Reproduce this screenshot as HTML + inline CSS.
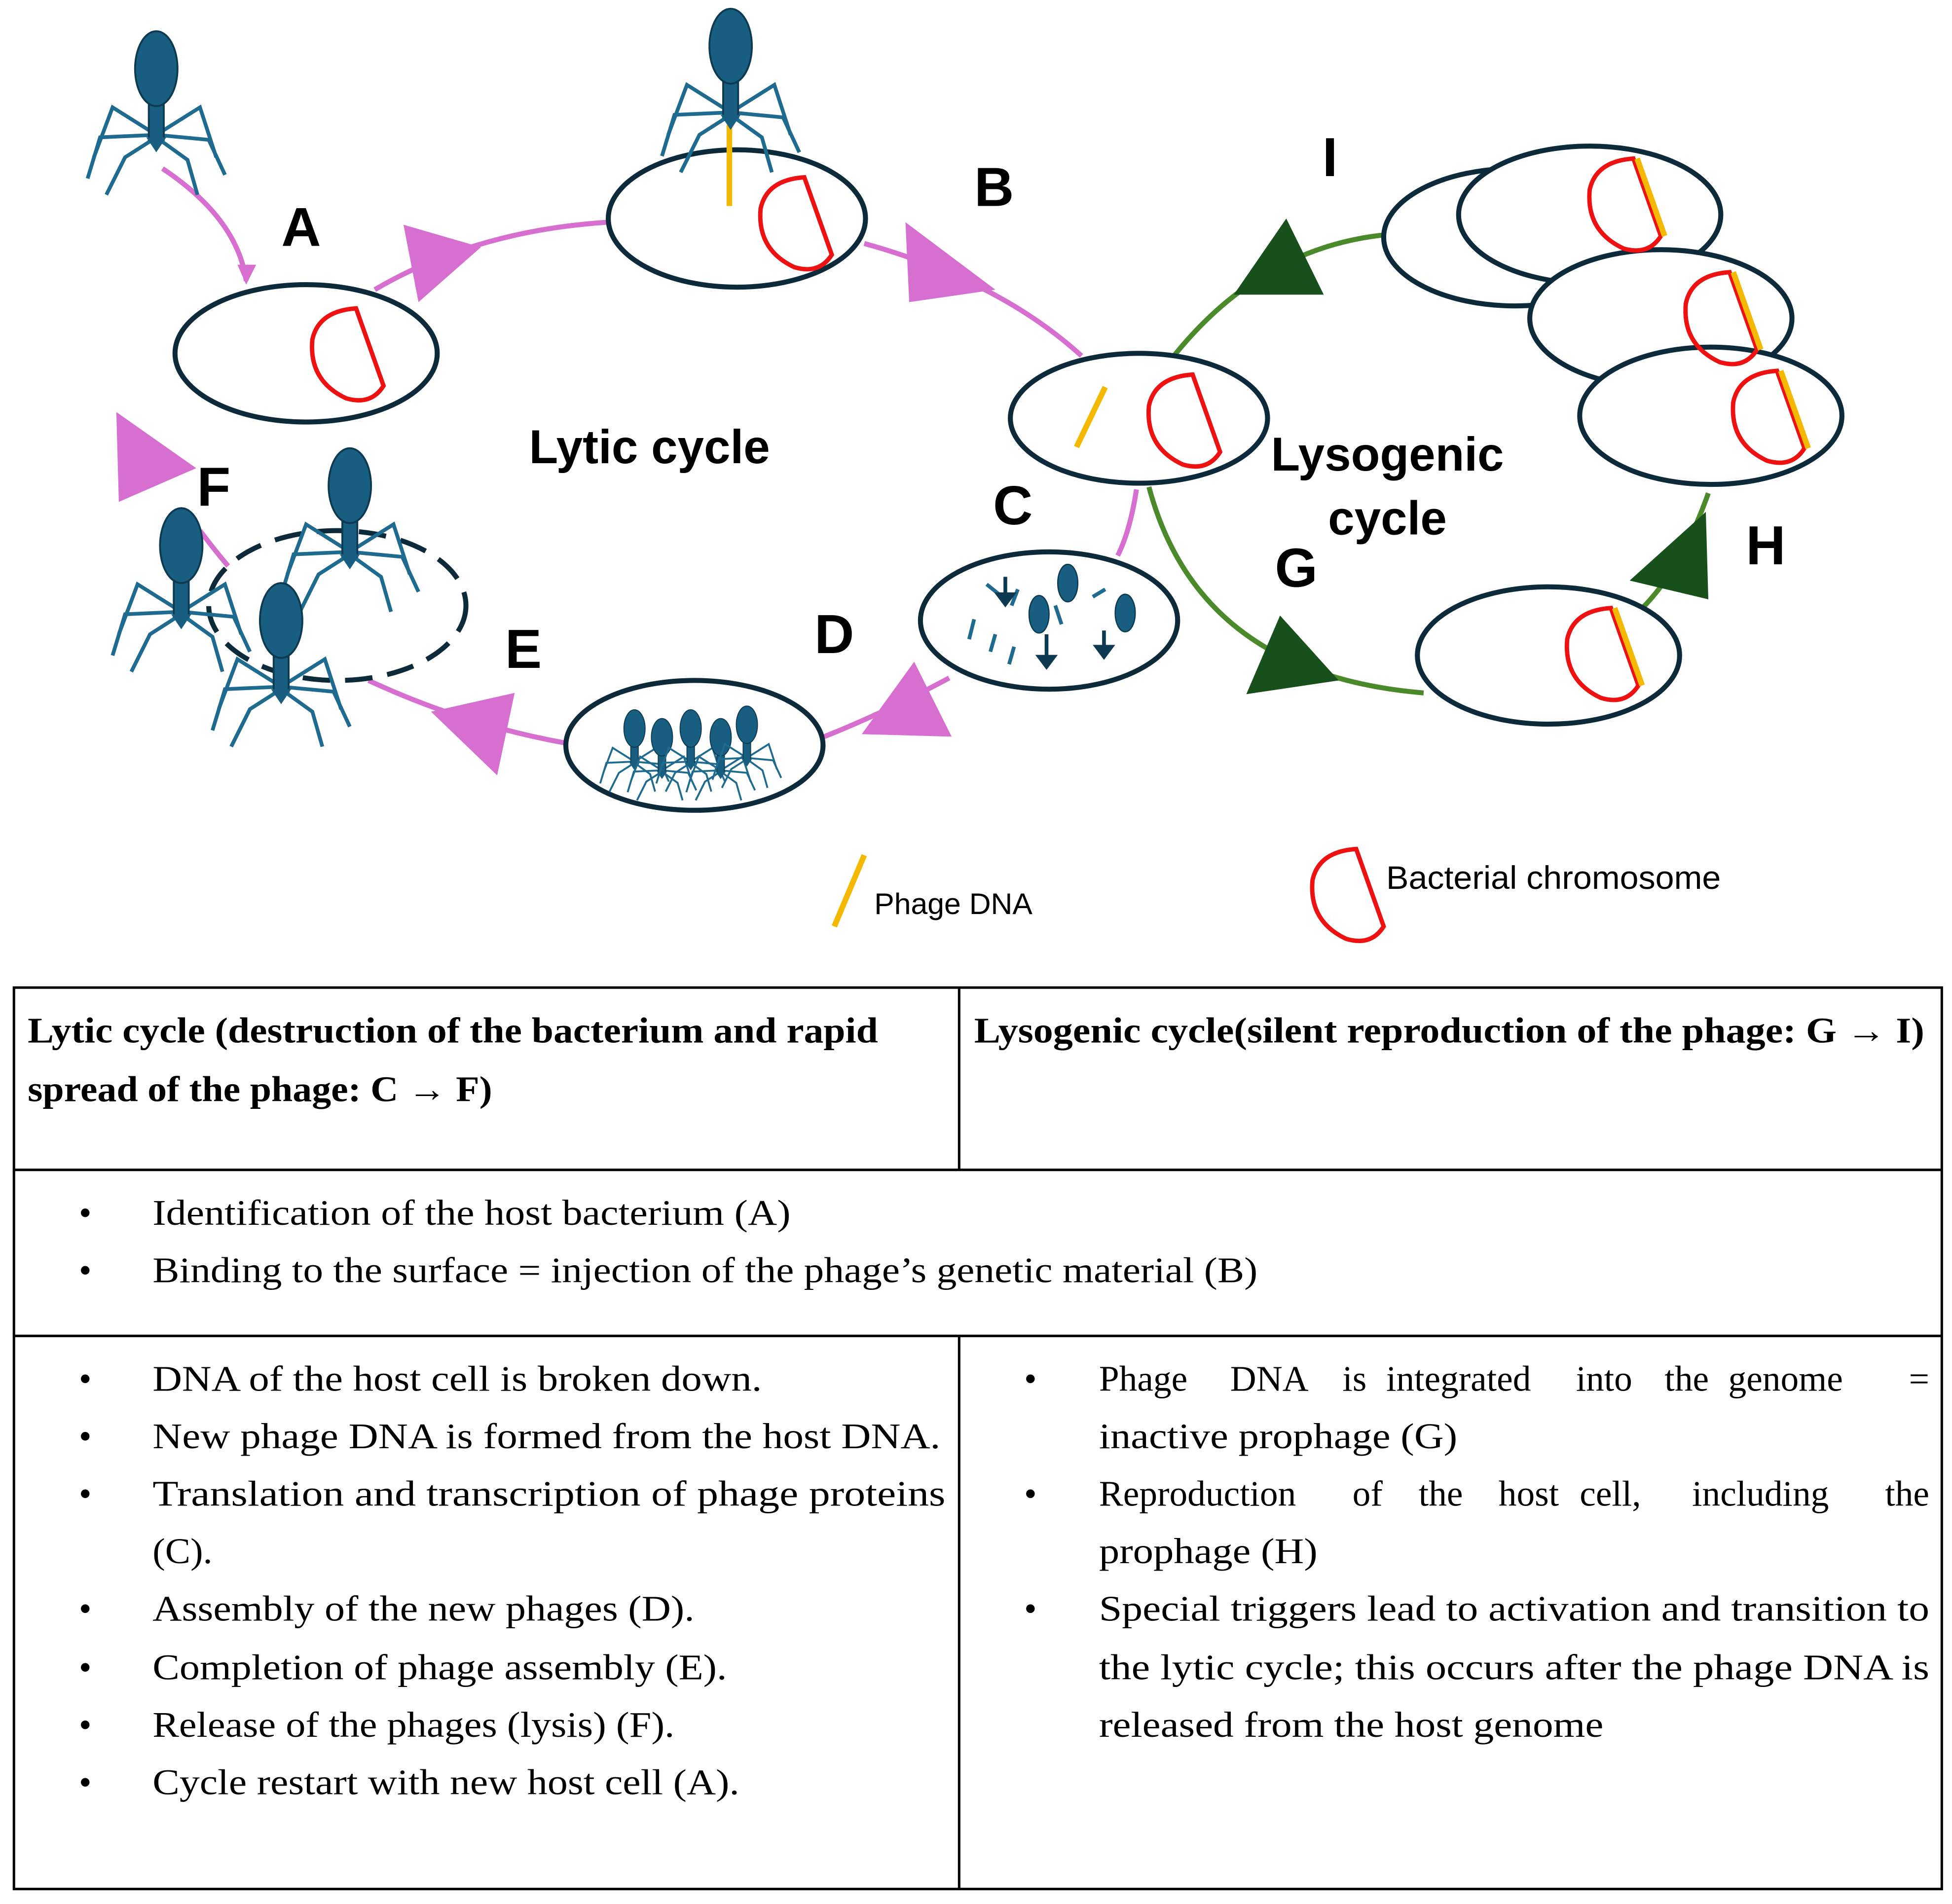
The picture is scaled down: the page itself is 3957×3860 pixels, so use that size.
<!DOCTYPE html>
<html><head><meta charset="utf-8"><style>
html,body{margin:0;padding:0;background:#fff}
svg{display:block}
.lab{font-family:"Liberation Sans",sans-serif;font-weight:bold;fill:#000}
.tb{font-family:"Liberation Serif",serif;font-size:29px;fill:#000}
</style></head><body>
<svg width="3957" height="3860" viewBox="0 0 1563 1525" xmlns="http://www.w3.org/2000/svg">
<defs>
<g id="phage">
  <g stroke="#1f6a8f" stroke-width="3" fill="none">
    <polyline points="0,-10 -35,-32 -50,8"/>
    <polyline points="0,-10 -45,-8 -55,25"/>
    <polyline points="0,-8 -25,8 -40,38"/>
    <polyline points="0,-10 35,-32 48,8"/>
    <polyline points="0,-10 42,-6 55,22"/>
    <polyline points="0,-8 25,10 33,38"/>
  </g>
  <rect x="-6" y="-34" width="12" height="28" fill="#175e80" stroke="#0d3a50" stroke-width="1.5"/>
  <polygon points="-8,-8 8,-8 0,4" fill="#175e80"/>
  <ellipse cx="0" cy="-63" rx="17" ry="30" fill="#175e80" stroke="#0d3a50" stroke-width="1.5"/>
</g>
<path id="chr" d="M0,0 L22,62 Q12,78 -8,72 Q-38,58 -35,25 Q-30,2 0,0 Z" fill="none" stroke="#ee1111" stroke-width="3.5"/>
</defs>

<g stroke="#d66fcf" stroke-width="4" fill="none">
  <path d="M130,135 Q190,175 197,225"/>
  <path d="M300,232 Q380,185 486,178"/>
  <path d="M692,195 Q800,225 866,285"/>
  <path d="M910,392 Q905,425 895,445"/>
  <path d="M760,543 Q710,570 660,590"/>
  <path d="M452,595 Q370,580 295,545"/>
  <path d="M190,462 Q175,445 160,425"/>
</g>
<g fill="#d66fcf">
  <polygon points="190,212 205,212 197,228"/>
  <polygon points="323,180 335,242 385,198"/>
  <polygon points="725,178 728,242 797,232"/>
  <polygon points="690,588 762,590 732,530"/>
  <polygon points="345,570 398,621 412,555"/>
  <polygon points="93,330 95,402 157,375"/>
</g>
<g stroke="#4a8a2a" stroke-width="4" fill="none">
  <path d="M940,285 Q1010,198 1110,188"/>
  <path d="M920,390 Q960,540 1140,555"/>
  <path d="M1310,492 Q1345,460 1368,395"/>
</g>
<g fill="#17501a">
  <polygon points="988,236 1060,236 1030,175"/>
  <polygon points="998,556 1072,545 1025,493"/>
  <polygon points="1305,465 1368,480 1366,410"/>
</g>

<g fill="#fff" stroke="#0d2a3a" stroke-width="4">
  <ellipse cx="245" cy="283" rx="105" ry="55"/>
  <ellipse cx="590" cy="175" rx="103" ry="55"/>
  <ellipse cx="912" cy="335" rx="103" ry="52"/>
  <ellipse cx="840" cy="497" rx="103" ry="55"/>
  <ellipse cx="556" cy="597" rx="103" ry="52"/>
  <ellipse cx="1240" cy="525" rx="105" ry="55"/>
  <ellipse cx="1213" cy="190" rx="105" ry="55"/>
  <ellipse cx="1273" cy="172" rx="105" ry="55"/>
  <ellipse cx="1330" cy="255" rx="105" ry="55"/>
  <ellipse cx="1370" cy="333" rx="105" ry="55"/>
  <ellipse cx="270" cy="485" rx="103" ry="60" stroke-dasharray="22,12"/>
</g>

<use href="#chr" x="285" y="247"/>
<use href="#chr" x="644" y="142"/>
<use href="#chr" x="955" y="300"/>
<use href="#chr" x="1290" y="487"/>
<use href="#chr" x="1308" y="127"/>
<use href="#chr" x="1385" y="218"/>
<use href="#chr" x="1423" y="297"/>
<use href="#chr" x="1086" y="680"/>
<g stroke="#f5b800" stroke-width="4.5">
  <line x1="584" y1="100" x2="584" y2="165"/>
  <line x1="862" y1="358" x2="885" y2="310"/>
  <line x1="1311" y1="127" x2="1333" y2="189"/>
  <line x1="1388" y1="218" x2="1410" y2="280"/>
  <line x1="1426" y1="297" x2="1448" y2="359"/>
  <line x1="1293" y1="487" x2="1315" y2="549"/>
  <line x1="668" y1="742" x2="692" y2="685"/>
</g>

<use href="#phage" x="125" y="118"/>
<use href="#phage" x="585" y="100"/>
<use href="#phage" x="145" y="500"/>
<use href="#phage" x="280" y="452"/>
<use href="#phage" x="225" y="560"/>
<g transform="translate(508,615) scale(0.5)"><use href="#phage"/></g>
<g transform="translate(530,622) scale(0.5)"><use href="#phage"/></g>
<g transform="translate(553,615) scale(0.5)"><use href="#phage"/></g>
<g transform="translate(577,622) scale(0.5)"><use href="#phage"/></g>
<g transform="translate(598,612) scale(0.5)"><use href="#phage"/></g>

<g fill="#175e80" stroke="#0d3a50" stroke-width="1">
  <ellipse cx="855" cy="467" rx="8" ry="15"/>
  <ellipse cx="832" cy="492" rx="8" ry="15"/>
  <ellipse cx="901" cy="491" rx="8" ry="15"/>
</g>
<g stroke="#1f6a8f" stroke-width="3">
  <line x1="815" y1="472" x2="810" y2="485"/>
  <line x1="780" y1="496" x2="776" y2="512"/>
  <line x1="797" y1="508" x2="793" y2="522"/>
  <line x1="812" y1="518" x2="808" y2="532"/>
  <line x1="845" y1="485" x2="850" y2="500"/>
  <line x1="875" y1="478" x2="885" y2="472"/>
  <line x1="790" y1="468" x2="800" y2="476"/>
</g>
<g stroke="#0d3a50" stroke-width="3" fill="#0d3a50">
  <line x1="805" y1="462" x2="805" y2="478"/><polygon points="799,476 811,476 805,484"/>
  <line x1="838" y1="508" x2="838" y2="528"/><polygon points="832,526 844,526 838,534"/>
  <line x1="884" y1="505" x2="884" y2="520"/><polygon points="878,518 890,518 884,526"/>
</g>

<g class="lab" font-size="44" text-anchor="middle">
  <text x="241" y="197">A</text>
  <text x="796" y="165">B</text>
  <text x="1065" y="141">I</text>
  <text x="811" y="420">C</text>
  <text x="668" y="523">D</text>
  <text x="419" y="535">E</text>
  <text x="171" y="405">F</text>
  <text x="1038" y="470">G</text>
  <text x="1414" y="452">H</text>
</g>
<g class="lab" font-size="38" text-anchor="middle">
  <text x="520" y="371">Lytic cycle</text>
  <text x="1111" y="377">Lysogenic</text>
  <text x="1111" y="428">cycle</text>
</g>
<text x="700" y="732" font-family="Liberation Sans,sans-serif" font-size="24">Phage DNA</text>
<text x="1110" y="712" font-family="Liberation Sans,sans-serif" font-size="26" textLength="268" lengthAdjust="spacingAndGlyphs">Bacterial chromosome</text>

<g stroke="#000" stroke-width="2" fill="none">
  <rect x="11" y="791" width="1544" height="722"/>
  <line x1="11" y1="937" x2="1555" y2="937"/>
  <line x1="11" y1="1070" x2="1555" y2="1070"/>
  <line x1="768" y1="791" x2="768" y2="937"/>
  <line x1="768" y1="1070" x2="768" y2="1513"/>
</g>
<g class="tb" font-weight="bold">
  <text x="22" y="835" textLength="681" lengthAdjust="spacingAndGlyphs">Lytic cycle (destruction of the bacterium and rapid</text>
  <text x="22" y="882" textLength="372" lengthAdjust="spacingAndGlyphs">spread of the phage: C → F)</text>
  <text x="780" y="835" textLength="761" lengthAdjust="spacingAndGlyphs">Lysogenic cycle(silent reproduction of the phage: G → I)</text>
</g>
<g class="tb">
  <text x="63" y="981">•</text><text x="122" y="981" textLength="511" lengthAdjust="spacingAndGlyphs">Identification of the host bacterium (A)</text>
  <text x="63" y="1027">•</text><text x="122" y="1027" textLength="885" lengthAdjust="spacingAndGlyphs">Binding to the surface = injection of the phage’s genetic material (B)</text>
  <text x="63" y="1114">•</text><text x="122" y="1114" textLength="488" lengthAdjust="spacingAndGlyphs">DNA of the host cell is broken down.</text>
  <text x="63" y="1160">•</text><text x="122" y="1160" textLength="631" lengthAdjust="spacingAndGlyphs">New phage DNA is formed from the host DNA.</text>
  <text x="63" y="1206">•</text><text x="122" y="1206" textLength="635" lengthAdjust="spacingAndGlyphs">Translation and transcription of phage proteins</text>
  <text x="122" y="1252" textLength="48" lengthAdjust="spacingAndGlyphs">(C).</text>
  <text x="63" y="1298">•</text><text x="122" y="1298" textLength="434" lengthAdjust="spacingAndGlyphs">Assembly of the new phages (D).</text>
  <text x="63" y="1345">•</text><text x="122" y="1345" textLength="460" lengthAdjust="spacingAndGlyphs">Completion of phage assembly (E).</text>
  <text x="63" y="1391">•</text><text x="122" y="1391" textLength="418" lengthAdjust="spacingAndGlyphs">Release of the phages (lysis) (F).</text>
  <text x="63" y="1437">•</text><text x="122" y="1437" textLength="470" lengthAdjust="spacingAndGlyphs">Cycle restart with new host cell (A).</text>
  <text x="820" y="1114">•</text>
  <text x="880" y="1114">Phage</text><text x="985" y="1114">DNA</text><text x="1075" y="1114">is</text><text x="1110" y="1114">integrated</text><text x="1262" y="1114">into</text><text x="1333" y="1114">the</text><text x="1384" y="1114">genome</text><text x="1545" y="1114" text-anchor="end">=</text>
  <text x="880" y="1160" textLength="287" lengthAdjust="spacingAndGlyphs">inactive prophage (G)</text>
  <text x="820" y="1206">•</text>
  <text x="880" y="1206">Reproduction</text><text x="1083" y="1206">of</text><text x="1136" y="1206">the</text><text x="1200" y="1206">host</text><text x="1265" y="1206">cell,</text><text x="1355" y="1206">including</text><text x="1545" y="1206" text-anchor="end">the</text>
  <text x="880" y="1252" textLength="175" lengthAdjust="spacingAndGlyphs">prophage (H)</text>
  <text x="820" y="1298">•</text><text x="880" y="1298" textLength="665" lengthAdjust="spacingAndGlyphs">Special triggers lead to activation and transition to</text>
  <text x="880" y="1345" textLength="665" lengthAdjust="spacingAndGlyphs">the lytic cycle; this occurs after the phage DNA is</text>
  <text x="880" y="1391" textLength="404" lengthAdjust="spacingAndGlyphs">released from the host genome</text>
</g>
</svg>
</body></html>
